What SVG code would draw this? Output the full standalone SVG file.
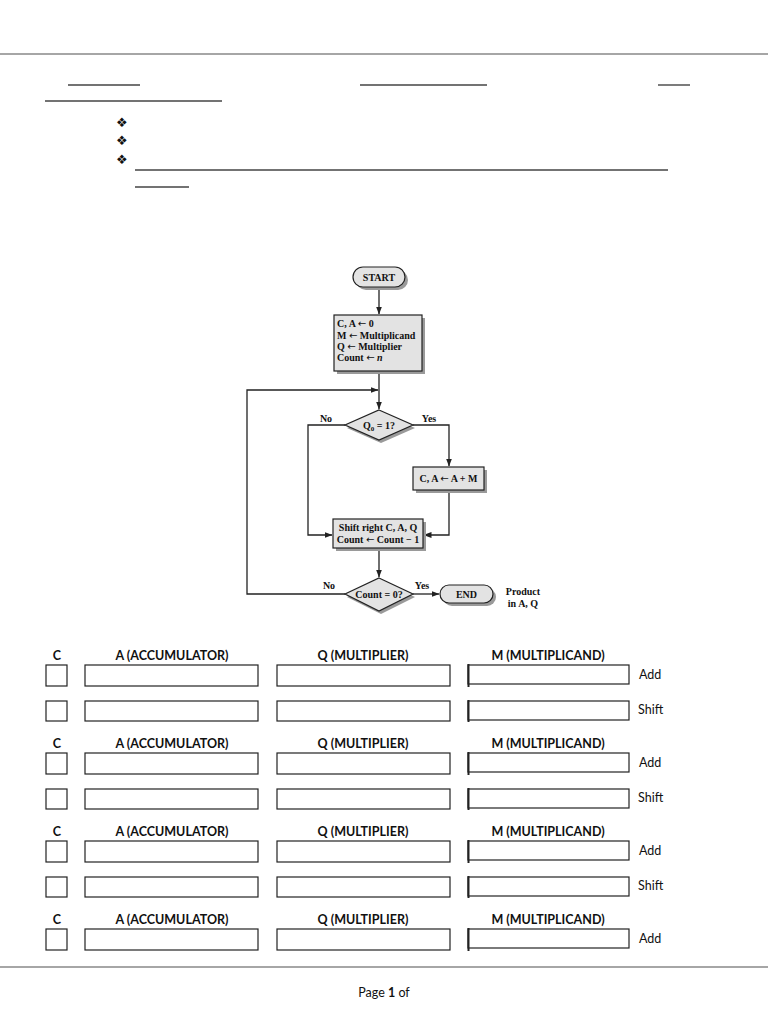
<svg xmlns="http://www.w3.org/2000/svg" width="768" height="1024" viewBox="0 0 768 1024">
<style>
.fc{font-family:"Liberation Serif",serif;font-weight:bold;font-size:10px;fill:#111}
.ar{font-family:"DejaVu Sans",sans-serif;font-weight:normal;font-size:10px}
.box{fill:#e3e3e3;stroke:#222;stroke-width:1.2}
.sh{fill:#9a9a9a}
.ln{stroke:#222;stroke-width:1.3;fill:none}
.ul{stroke:#444;stroke-width:1.4}
.tb{fill:none;stroke:#222;stroke-width:1.2}
.hd{font-family:Lato,"Liberation Sans",sans-serif;font-weight:bold;font-size:12.5px;fill:#111}
.lb{font-family:Lato,"Liberation Sans",sans-serif;font-size:12.5px;fill:#111}
.bul{font-family:"DejaVu Sans",sans-serif;font-size:13px;fill:#111}
</style>
<defs>
<marker id="ah" markerWidth="8" markerHeight="6" refX="7.5" refY="3" orient="auto" markerUnits="userSpaceOnUse"><path d="M0,0 L8,3 L0,6 z" fill="#222"/></marker>
<g id="tablegroup">
<rect class="tb" x="46" y="9" width="21" height="21"/>
<rect class="tb" x="85" y="9" width="173" height="21"/>
<rect class="tb" x="277" y="9" width="173" height="21"/>
<rect class="tb" x="468" y="9" width="161" height="19"/>
<line x1="468.5" y1="8" x2="468.5" y2="31" stroke="#222" stroke-width="2"/>
</g>
<g id="shiftrow">
<rect class="tb" x="46" y="45" width="21" height="20"/>
<rect class="tb" x="85" y="45" width="173" height="20"/>
<rect class="tb" x="277" y="45" width="173" height="20"/>
<rect class="tb" x="468" y="45" width="161" height="19"/>
<line x1="468.5" y1="44" x2="468.5" y2="66" stroke="#222" stroke-width="2"/>
</g>
</defs>
<rect width="768" height="1024" fill="#fff"/>

<g id="page-header">
<line x1="0" y1="54" x2="768" y2="54" stroke="#888" stroke-width="1.5"/>
<line class="ul" x1="68" y1="85" x2="140" y2="85"/>
<line class="ul" x1="360" y1="85" x2="487" y2="85"/>
<line class="ul" x1="658" y1="85" x2="690" y2="85"/>
<line class="ul" x1="45" y1="101" x2="222" y2="101"/>
<text class="bul" x="116" y="127">❖</text>
<text class="bul" x="116" y="145">❖</text>
<text class="bul" x="116" y="164">❖</text>
<line class="ul" x1="135" y1="170" x2="668" y2="170"/>
<line class="ul" x1="135" y1="187" x2="189" y2="187"/>
</g>

<g id="connectors">
<path class="ln" d="M379,287 V314" marker-end="url(#ah)"/>
<path class="ln" d="M379,371 V409" marker-end="url(#ah)"/>
<path class="ln" d="M345,594 H247 V390 H378" marker-end="url(#ah)"/>
<path class="ln" d="M345,425 H308 V535 H332" marker-end="url(#ah)"/>
<path class="ln" d="M413,425 H449 V466" marker-end="url(#ah)"/>
<path class="ln" d="M449,490 V535 H424" marker-end="url(#ah)"/>
<path class="ln" d="M379,548 V577" marker-end="url(#ah)"/>
<path class="ln" d="M413,594 H439" marker-end="url(#ah)"/>
<text class="fc" x="326" y="422" text-anchor="middle" font-size="9">No</text>
<text class="fc" x="429" y="422" text-anchor="middle" font-size="9">Yes</text>
<text class="fc" x="329" y="589" text-anchor="middle" font-size="9">No</text>
<text class="fc" x="422" y="589" text-anchor="middle" font-size="9">Yes</text>
</g>

<g id="start">
<rect class="sh" x="356" y="270" width="52" height="20" rx="10"/>
<rect class="box" x="353" y="267" width="52" height="20" rx="10"/>
<text class="fc" x="379" y="281" text-anchor="middle">START</text>
</g>

<g id="init">
<rect class="sh" x="337" y="318" width="88" height="56"/>
<rect class="box" x="334" y="315" width="88" height="56"/>
<text class="fc" x="337" y="327">C, A <tspan class="ar">←</tspan> 0</text>
<text class="fc" x="337" y="339">M <tspan class="ar">←</tspan> Multiplicand</text>
<text class="fc" x="337" y="350">Q <tspan class="ar">←</tspan> Multiplier</text>
<text class="fc" x="337" y="361">Count <tspan class="ar">←</tspan> <tspan font-style="italic">n</tspan></text>
</g>

<g id="test-q0">
<polygon class="sh" points="381,413 415,428 381,443 347,428"/>
<polygon class="box" points="379,410 413,425 379,440 345,425"/>
<text class="fc" x="379" y="429" text-anchor="middle">Q<tspan font-size="7" dy="2">0</tspan><tspan dy="-2"> = 1?</tspan></text>
</g>

<g id="add">
<rect class="sh" x="416" y="470" width="71" height="23"/>
<rect class="box" x="413" y="467" width="71" height="23"/>
<text class="fc" x="448.5" y="482" text-anchor="middle">C, A <tspan class="ar">←</tspan> A + M</text>
</g>

<g id="shift">
<rect class="sh" x="336" y="522" width="90" height="29"/>
<rect class="box" x="333" y="519" width="90" height="29"/>
<text class="fc" x="378" y="531" text-anchor="middle">Shift right C, A, Q</text>
<text class="fc" x="378" y="543" text-anchor="middle">Count <tspan class="ar">←</tspan> Count − 1</text>
</g>

<g id="test-count">
<polygon class="sh" points="381,581 415,597 381,614 347,597"/>
<polygon class="box" points="379,578 413,594 379,611 345,594"/>
<text class="fc" x="379" y="598" text-anchor="middle">Count = 0?</text>
</g>

<g id="end">
<rect class="sh" x="443" y="588" width="53" height="18" rx="9"/>
<rect class="box" x="440" y="585" width="53" height="18" rx="9"/>
<text class="fc" x="466.5" y="598" text-anchor="middle">END</text>
<text class="fc" x="523" y="595" text-anchor="middle" font-size="9">Product</text>
<text class="fc" x="523" y="607" text-anchor="middle" font-size="9">in A, Q</text>
</g>

<g id="table-1" transform="translate(0,656)">
<text class="hd" x="57" y="4" text-anchor="middle">C</text>
<text class="hd" x="172" y="4" text-anchor="middle">A (ACCUMULATOR)</text>
<text class="hd" x="363" y="4" text-anchor="middle">Q (MULTIPLIER)</text>
<text class="hd" x="548" y="4" text-anchor="middle">M (MULTIPLICAND)</text>
<use href="#tablegroup"/>
<text class="lb" x="639" y="23">Add</text>
<use href="#shiftrow"/>
<text class="lb" x="638" y="58">Shift</text>
</g>
<g id="table-2" transform="translate(0,744)">
<text class="hd" x="57" y="4" text-anchor="middle">C</text>
<text class="hd" x="172" y="4" text-anchor="middle">A (ACCUMULATOR)</text>
<text class="hd" x="363" y="4" text-anchor="middle">Q (MULTIPLIER)</text>
<text class="hd" x="548" y="4" text-anchor="middle">M (MULTIPLICAND)</text>
<use href="#tablegroup"/>
<text class="lb" x="639" y="23">Add</text>
<use href="#shiftrow"/>
<text class="lb" x="638" y="58">Shift</text>
</g>
<g id="table-3" transform="translate(0,832)">
<text class="hd" x="57" y="4" text-anchor="middle">C</text>
<text class="hd" x="172" y="4" text-anchor="middle">A (ACCUMULATOR)</text>
<text class="hd" x="363" y="4" text-anchor="middle">Q (MULTIPLIER)</text>
<text class="hd" x="548" y="4" text-anchor="middle">M (MULTIPLICAND)</text>
<use href="#tablegroup"/>
<text class="lb" x="639" y="23">Add</text>
<use href="#shiftrow"/>
<text class="lb" x="638" y="58">Shift</text>
</g>
<g id="table-4" transform="translate(0,920)">
<text class="hd" x="57" y="4" text-anchor="middle">C</text>
<text class="hd" x="172" y="4" text-anchor="middle">A (ACCUMULATOR)</text>
<text class="hd" x="363" y="4" text-anchor="middle">Q (MULTIPLIER)</text>
<text class="hd" x="548" y="4" text-anchor="middle">M (MULTIPLICAND)</text>
<use href="#tablegroup"/>
<text class="lb" x="639" y="23">Add</text>
</g>

<g id="page-footer">
<line x1="0" y1="967" x2="768" y2="967" stroke="#888" stroke-width="1.5"/>
<text class="lb" x="384" y="997" text-anchor="middle" font-size="12">Page <tspan font-weight="bold">1</tspan> of</text>
</g>
</svg>
